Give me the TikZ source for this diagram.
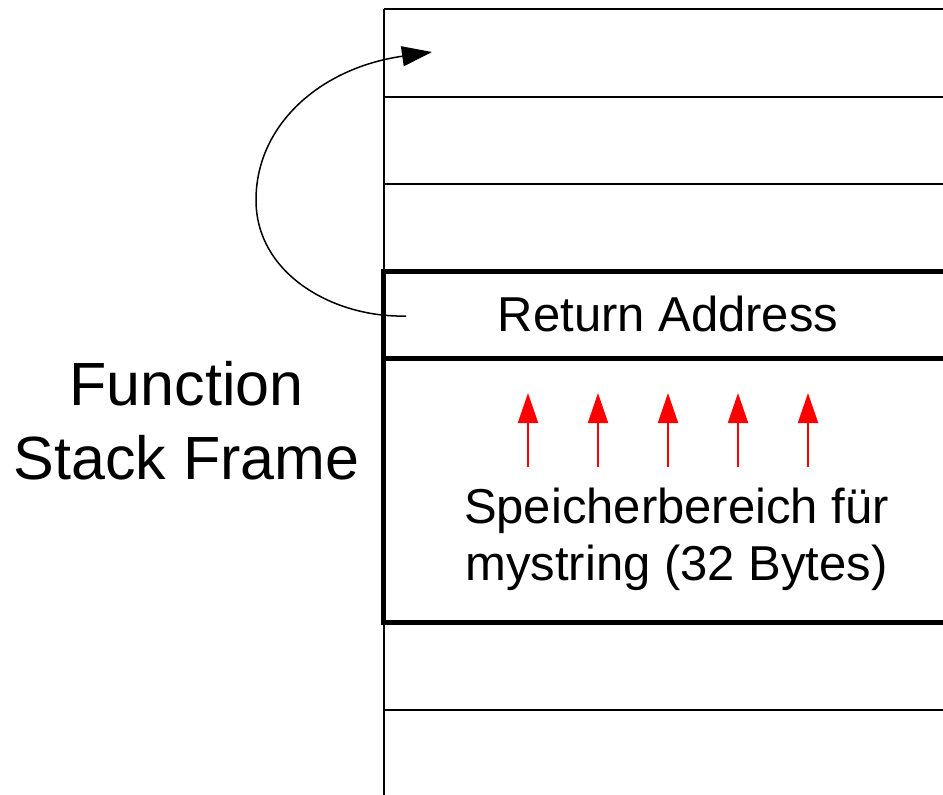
\documentclass[tikz,border=0pt]{standalone}
\usepackage{fontspec}
\setmainfont{Liberation Sans}
\usetikzlibrary{arrows.meta}
\tikzset{
  thinline/.style={line width=1.5pt, black},
  thickline/.style={line width=5pt, black, line cap=rect},
  label49/.style={font=\fontsize{49}{57}\selectfont, inner sep=0pt, align=center},
  label61/.style={font=\fontsize{61}{74}\selectfont, inner sep=0pt, align=center},
  redarrow/.style={red, line width=2pt, -{Triangle[length=30pt,width=20pt]}},
  retarrow/.style={black, line width=1.5pt, -{Triangle[length=30pt,width=20pt]}}
}
\begin{document}
\begin{tikzpicture}[x=1pt,y=-1pt]
\useasboundingbox (0,0) rectangle (943,795);
\fill[white] (0,0) rectangle (943,795);
% stack column
\coordinate (coltop) at (384,9);
\coordinate (colbot) at (384,800);
\draw[thinline] (coltop) -- (colbot);
\draw[thinline] (384,9) -- (950,9);
\draw[thinline] (384,97) -- (950,97);
\draw[thinline] (384,184) -- (950,184);
\draw[thinline] (384,710) -- (950,710);
% thick frame
\draw[thickline] (950,271) -- (383,271) -- (383,622) -- (950,622);
\draw[thickline] (383,358) -- (950,358);
% texts
\node[label49, anchor=base] (ret) at (668,331) {Return Address};
\node[label61, anchor=base] (frame) at (186.5,479) {Function\\Stack Frame};
\node[label49, anchor=base] (buf) at (676.5,580) {Speicherbereich für\\mystring (32 Bytes)};
% red arrows
\foreach \i/\x in {1/528,2/598,3/668,4/738,5/808}{
  \coordinate (rs\i) at (\x,467);
  \coordinate (re\i) at (\x,393);
  \draw[redarrow] (rs\i) -- (re\i);
}
% return arrow
\coordinate (ra1) at (406,316);
\coordinate (ra2) at (432,52);
\draw[retarrow] (ra1) .. controls (335,318) and (256,275) .. (256,200)
  .. controls (256,125) and (320,68) .. (ra2);
\end{tikzpicture}
\end{document}
